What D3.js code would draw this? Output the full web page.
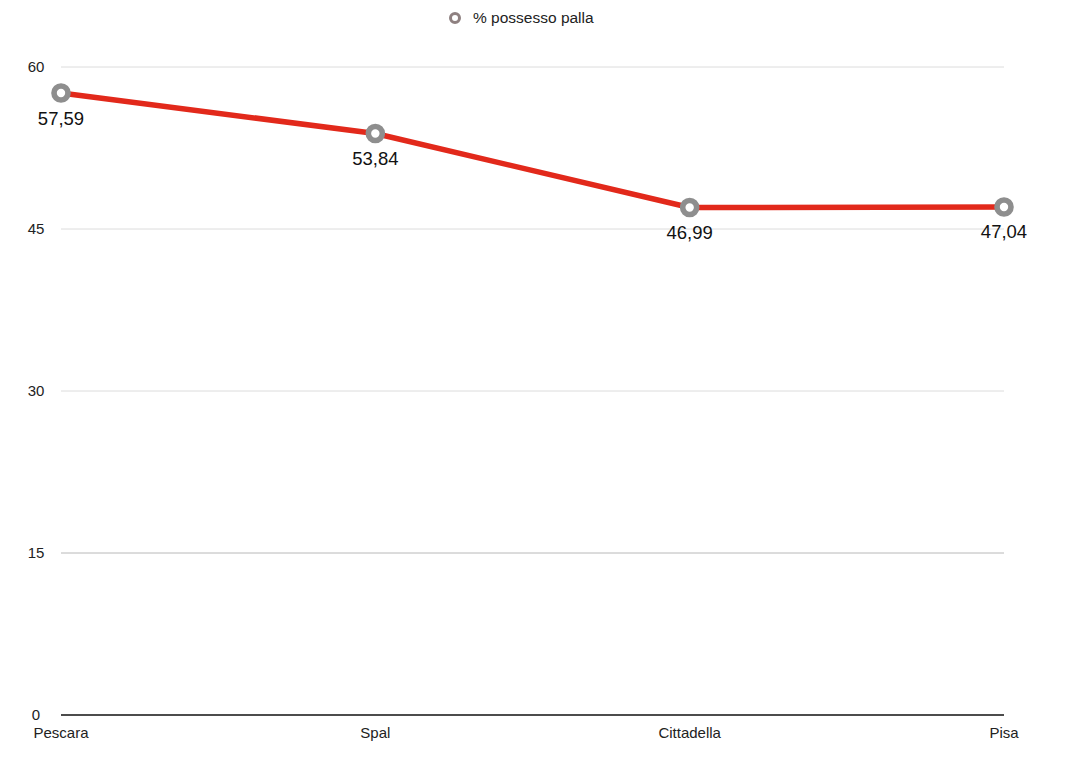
<!DOCTYPE html>
<html><head><meta charset="utf-8">
<script src="https://cdn.jsdelivr.net/npm/d3@7"></script>
<style>body{margin:0;background:#fff;}svg{display:block;font-family:"Liberation Sans",Arial,sans-serif;}</style>
</head><body>
<script>
const categories = ["Pescara","Spal","Cittadella","Pisa"];
const values = [57.59, 53.84, 46.99, 47.04];
const valueLabels = ["57,59","53,84","46,99","47,04"];
const yTicks = [0,15,30,45,60];
const seriesName = "% possesso palla";

const W=1080,H=760;
const svg=d3.select("body").append("svg").attr("width",W).attr("height",H);
const x=d3.scalePoint().domain(categories).range([61,1004]);
const y=d3.scaleLinear().domain([0,60]).range([715,67]);

// gridlines
svg.append("g").selectAll("line").data(yTicks.filter(d=>d>0)).join("line")
  .attr("x1",61).attr("x2",1004).attr("y1",d=>y(d)).attr("y2",d=>y(d))
  .attr("stroke",d=>d===15?"#b8b8b8":"#dcdcdc").attr("stroke-width",1);
// baseline
svg.append("line").attr("x1",61).attr("x2",1004).attr("y1",y(0)).attr("y2",y(0))
  .attr("stroke","#111").attr("stroke-width",1.5);
// y labels
svg.append("g").selectAll("text").data(yTicks).join("text")
  .attr("x",36).attr("y",d=>y(d)).attr("dy","0.35em").attr("text-anchor","middle")
  .attr("font-size",15).attr("fill","#222").text(d=>d);
// x labels
svg.append("g").selectAll("text").data(categories).join("text")
  .attr("x",d=>x(d)).attr("y",733).attr("dy","0.35em").attr("text-anchor","middle")
  .attr("font-size",15).attr("fill","#222").text(d=>d);
// line
const pts=categories.map((c,i)=>[x(c),y(values[i])]);
svg.append("path").attr("d",d3.line()(pts)).attr("fill","none")
  .attr("stroke","#e2291b").attr("stroke-width",5.5).attr("stroke-linejoin","round");
// markers
svg.append("g").selectAll("circle").data(pts).join("circle")
  .attr("cx",d=>d[0]).attr("cy",d=>d[1]).attr("r",7)
  .attr("fill","#fff").attr("stroke","#8e8e8e").attr("stroke-width",5.6);
// value labels
svg.append("g").selectAll("text").data(pts).join("text")
  .attr("x",d=>d[0]).attr("y",d=>d[1]+25).attr("dy","0.35em").attr("text-anchor","middle")
  .attr("font-size",18.5).attr("fill","#111").text((d,i)=>valueLabels[i]);
// legend
svg.append("circle").attr("cx",455).attr("cy",18).attr("r",4.5)
  .attr("fill","#fff").attr("stroke","#8e8080").attr("stroke-width",3);
svg.append("text").attr("x",473).attr("y",18).attr("dy","0.35em")
  .attr("font-size",15.5).attr("fill","#222").text(seriesName);
</script>
</body></html>
